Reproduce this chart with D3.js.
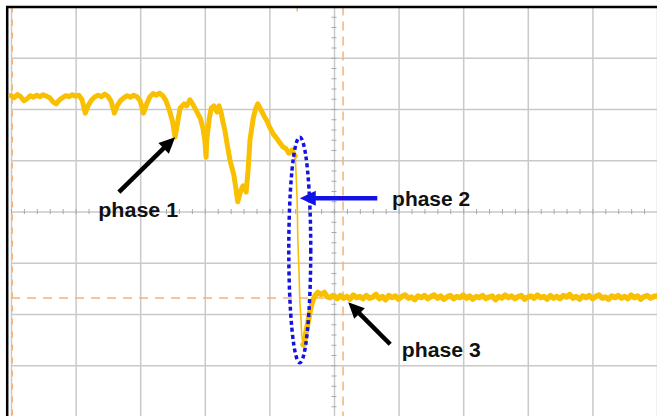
<!DOCTYPE html>
<html>
<head>
<meta charset="utf-8">
<script src="https://cdn.jsdelivr.net/npm/d3@7"></script>
<style>
  html, body { margin: 0; padding: 0; background: #fff; }
  svg { display: block; }
</style>
</head>
<body>
<svg id="chart" width="657" height="416"></svg>
<script>
// ---------- DATA (time in divisions 0..10, voltage in divisions -4..4) ----------
const sampleStep = 0.05;

// Phase 1: slow sag with periodic dips (uniform samples from t = 0)
const voltA = [2.26,2.22,2.28,2.24,2.16,2.20,2.26,2.23,2.27,2.24,
               2.28,2.25,2.22,2.14,2.10,2.18,2.22,2.26,2.24,2.28,
               2.25,2.27,2.18,1.92,2.08,2.18,2.24,2.27,2.24,2.29,
               2.25,2.15,1.92,2.08,2.17,2.22,2.26,2.23,2.27,2.24,
               2.16,1.92,2.10,2.24,2.30,2.27,2.31,2.26,2.16,1.98,
               1.76];

// Phase 1 continued: deeper oscillations
const timeB = [2.54,2.59,2.62,2.68,2.72,2.77,2.82,2.88,2.93,2.97,3.00,3.02,3.03,3.07,3.10,3.14,3.19,3.22,3.25,3.28,
               3.31,3.34,3.39,3.42,3.45,3.48,3.51,3.55,3.59,3.64,3.67,3.70,3.75,3.79,3.82,3.87,3.92,3.96,4.01,4.06,
               4.10,4.15,4.21,4.26,4.30,4.35,4.38,4.40];
const voltB = [1.45,1.82,2.02,2.10,2.06,2.18,2.08,1.94,1.82,1.63,1.40,1.06,1.40,1.82,2.02,2.06,1.94,2.06,1.94,1.75,
               1.59,1.36,1.00,0.85,0.71,0.46,0.19,0.38,0.50,0.38,0.81,1.40,1.82,2.02,2.10,1.98,1.86,1.77,1.63,1.51,
               1.45,1.36,1.26,1.22,1.14,1.20,1.12,1.08];

// Phase 2: fast collapse
const timeEdge = [4.40,4.41,4.43,4.44,4.46,4.47,4.49,4.50,4.52];
const voltEdge = [1.08,0.81,0.22,-0.56,-1.24,-1.73,-2.12,-2.41,-2.60];

// Undershoot and settling
const timeC = [4.52,4.54,4.55,4.58,4.61,4.64,4.67,4.71,4.75,4.80,4.85,4.89,4.94,4.98];
const voltC = [-2.60,-2.59,-2.47,-2.27,-2.08,-1.88,-1.74,-1.64,-1.58,-1.62,-1.58,-1.66,-1.68,-1.64];

// Phase 3: flat level (uniform samples from t = 5)
const voltFlat = [-1.65,-1.70,-1.64,-1.69,-1.66,-1.71,-1.63,-1.68,-1.66,-1.70,
                  -1.64,-1.69,-1.67,-1.62,-1.70,-1.66,-1.72,-1.64,-1.68,-1.65,
                  -1.71,-1.66,-1.63,-1.69,-1.67,-1.72,-1.65,-1.68,-1.64,-1.70,
                  -1.66,-1.63,-1.69,-1.65,-1.71,-1.67,-1.64,-1.70,-1.66,-1.68,
                  -1.63,-1.69,-1.65,-1.71,-1.66,-1.68,-1.64,-1.70,-1.67,-1.65,
                  -1.72,-1.66,-1.69,-1.63,-1.68,-1.65,-1.70,-1.66,-1.64,-1.71,
                  -1.67,-1.65,-1.69,-1.63,-1.68,-1.66,-1.71,-1.64,-1.69,-1.66,
                  -1.70,-1.64,-1.67,-1.62,-1.69,-1.66,-1.71,-1.65,-1.68,-1.64,
                  -1.70,-1.66,-1.63,-1.69,-1.67,-1.71,-1.65,-1.68,-1.64,-1.69,
                  -1.66,-1.70,-1.63,-1.68,-1.65,-1.71,-1.66,-1.64,-1.69,-1.66,
                  -1.65];

// Scope markers
const triggerTime = 5.14;
const triggerLevel = -1.69;
const groundMarkerTime = 0.02;
const topMarkerTime = 4.43;

// Annotations
const labels = ["phase 1", "phase 2", "phase 3"];

// ---------- LAYOUT ----------
const W = 657, H = 416;
const x = d3.scaleLinear().domain([0, 10]).range([11, 657]);
const y = d3.scaleLinear().domain([-4, 4]).range([416.5, 6.5]);
const svg = d3.select("#chart");

// Grid (major divisions)
const gridColor = "#c9c9c9";
svg.append("g")
  .attr("transform", `translate(0,${y(-4)})`)
  .call(d3.axisBottom(x).tickValues(d3.range(0, 11)).tickSize(-(y(-4) - y(4))).tickFormat(""))
  .call(g => g.select(".domain").remove())
  .call(g => g.selectAll("line").attr("stroke", gridColor).attr("stroke-width", 1.5));
svg.append("g")
  .attr("transform", `translate(${x(0)},0)`)
  .call(d3.axisLeft(y).tickValues(d3.range(-4, 5)).tickSize(-(x(10) - x(0))).tickFormat(""))
  .call(g => g.select(".domain").remove())
  .call(g => g.selectAll("line").attr("stroke", gridColor).attr("stroke-width", 1.5));

// Minor ticks on centre axes
svg.append("g")
  .attr("transform", `translate(0,${y(0) - 2.5})`)
  .call(d3.axisBottom(x).tickValues(d3.range(0, 10.001, 0.2)).tickSize(5).tickFormat(""))
  .call(g => g.select(".domain").remove())
  .call(g => g.selectAll("line").attr("stroke", "#a8a8a8").attr("stroke-width", 1));
svg.append("g")
  .attr("transform", `translate(${x(5) - 2.5},0)`)
  .call(d3.axisRight(y).tickValues(d3.range(-4, 4.001, 0.2)).tickSize(5).tickFormat(""))
  .call(g => g.select(".domain").remove())
  .call(g => g.selectAll("line").attr("stroke", "#a8a8a8").attr("stroke-width", 1));

// Orange dashed marker lines
const orange = "#f2b47a";
svg.append("line")
  .attr("x1", x(triggerTime)).attr("x2", x(triggerTime)).attr("y1", y(4)).attr("y2", H)
  .attr("stroke", orange).attr("stroke-width", 1.5).attr("stroke-dasharray", "9,6");
svg.append("line")
  .attr("x1", x(0)).attr("x2", x(10)).attr("y1", y(triggerLevel)).attr("y2", y(triggerLevel))
  .attr("stroke", orange).attr("stroke-width", 1.5).attr("stroke-dasharray", "9,7");
svg.append("line")
  .attr("x1", x(groundMarkerTime)).attr("x2", x(groundMarkerTime)).attr("y1", y(4)).attr("y2", H)
  .attr("stroke", orange).attr("stroke-width", 1.5).attr("stroke-dasharray", "6,7");
svg.append("line")
  .attr("x1", x(topMarkerTime)).attr("x2", x(topMarkerTime)).attr("y1", y(4)).attr("y2", y(4) + 5)
  .attr("stroke", orange).attr("stroke-width", 1.5);

// Frame (top and left)
svg.append("line").attr("x1", 6).attr("x2", W).attr("y1", 7).attr("y2", 7)
  .attr("stroke", "#000").attr("stroke-width", 2.5);
svg.append("line").attr("x1", 7.2).attr("x2", 7.2).attr("y1", 6).attr("y2", H)
  .attr("stroke", "#000").attr("stroke-width", 2.5);

// ---------- TRACE ----------
const traceColor = "#f8c000";
const line = d3.line().x(d => x(d[0])).y(d => y(d[1]));
const ptsA = voltA.map((v, i) => [i * sampleStep, v]);
const ptsB = timeB.map((t, i) => [t, voltB[i]]);
const ptsEdge = timeEdge.map((t, i) => [t, voltEdge[i]]);
const ptsC = timeC.map((t, i) => [t, voltC[i]]);
const ptsFlat = voltFlat.map((v, i) => [5 + i * sampleStep, v]);

svg.append("path").datum(ptsA.concat(ptsB))
  .attr("d", line).attr("fill", "none").attr("stroke", traceColor)
  .attr("stroke-width", 5).attr("stroke-linejoin", "round").attr("stroke-linecap", "round");
svg.append("path").datum(ptsEdge)
  .attr("d", line).attr("fill", "none").attr("stroke", traceColor)
  .attr("stroke-width", 1.6).attr("stroke-linejoin", "round");
svg.append("path").datum(ptsC.concat(ptsFlat))
  .attr("d", line).attr("fill", "none").attr("stroke", traceColor)
  .attr("stroke-width", 5.5).attr("stroke-linejoin", "round").attr("stroke-linecap", "round");

// ---------- ANNOTATIONS ----------
const blue = "#1212e6";
const notes = [
  { label: labels[0], text: [1.35, -0.11], width: 80, from: [1.67, 0.38], to: [2.54, 1.45], color: "#000" },
  { label: labels[1], text: [5.90, 0.11], width: 78, from: [5.67, 0.26], to: [4.47, 0.26], color: blue },
  { label: labels[2], text: [6.05, -2.84], width: 79, from: [5.87, -2.59], to: [5.22, -1.77], color: "#000" }
];

// Dotted ellipse around phase 2
svg.append("ellipse")
  .attr("cx", x(4.47)).attr("cy", y(-0.75))
  .attr("rx", x(4.64) - x(4.47)).attr("ry", y(-2.95) - y(-0.75))
  .attr("fill", "none").attr("stroke", blue).attr("stroke-width", 3.5)
  .attr("stroke-dasharray", "4,3");

notes.forEach(n => {
  const x1 = x(n.from[0]), y1 = y(n.from[1]);
  const x2 = x(n.to[0]), y2 = y(n.to[1]);
  const ang = Math.atan2(y2 - y1, x2 - x1);
  const headLen = 16, headHalf = 7.5;
  const bx = x2 - headLen * Math.cos(ang), by = y2 - headLen * Math.sin(ang);
  svg.append("line").attr("x1", x1).attr("y1", y1).attr("x2", bx + 2 * Math.cos(ang)).attr("y2", by + 2 * Math.sin(ang))
    .attr("stroke", n.color).attr("stroke-width", 4.5);
  const px = -Math.sin(ang), py = Math.cos(ang);
  svg.append("polygon")
    .attr("points", [[x2, y2], [bx + headHalf * px, by + headHalf * py], [bx - headHalf * px, by - headHalf * py]].map(p => p.join(",")).join(" "))
    .attr("fill", n.color);
  svg.append("text")
    .attr("x", x(n.text[0])).attr("y", y(n.text[1]))
    .attr("font-family", "Liberation Sans, Arial, sans-serif")
    .attr("font-weight", "bold").attr("font-size", 20)
    .attr("textLength", n.width).attr("lengthAdjust", "spacingAndGlyphs")
    .attr("fill", "#111")
    .text(n.label);
});
</script>
</body>
</html>
